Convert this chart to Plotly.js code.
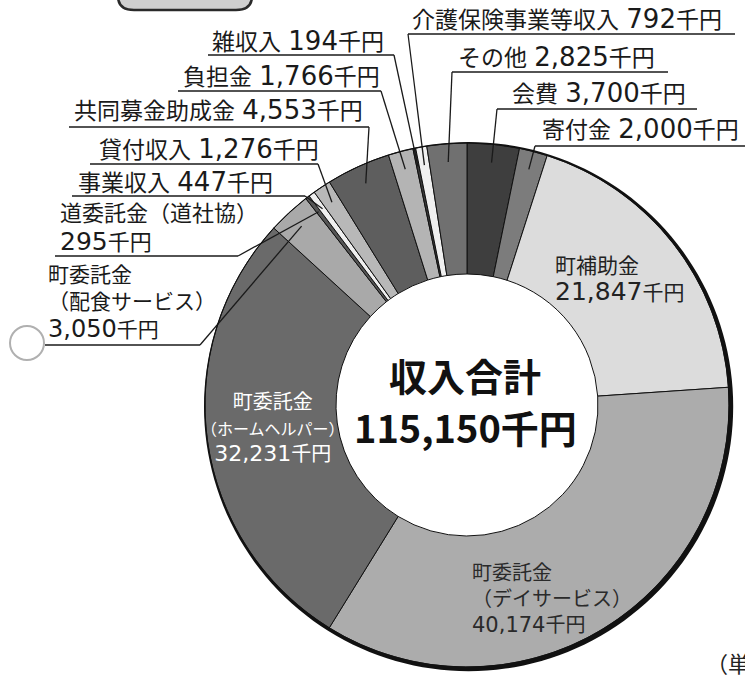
<!DOCTYPE html>
<html><head><meta charset="utf-8">
<script src="https://cdn.plot.ly/plotly-3.0.1.min.js"></script>
<style>html,body{margin:0;padding:0;background:#fff}#chart{width:745px;height:678px}</style>
</head><body><div id="chart"></div>
<script>
// ---- data ----
const categories = ['会費','寄付金','町補助金','町委託金（デイサービス）','町委託金（ホームヘルパー）','町委託金（配食サービス）','道委託金（道社協）','事業収入','貸付収入','共同募金助成金','負担金','雑収入','介護保険事業等収入','その他'];
const values = [3700, 2000, 21847, 40174, 32231, 3050, 295, 447, 1276, 4553, 1766, 194, 792, 2825];
const unit = '千円';
const totalTitle = '収入合計';
const totalValue = 115150;
const unitNote = '（単位：千円）';

// ---- style ----
const sliceColors = ['#3e3e3e','#7c7c7c','#dcdcdc','#acacac','#6a6a6a','#a9a9a9','#555555','#efefef','#b8b8b8','#5e5e5e','#b4b4b4','#3a3a3a','#f0f0f0','#707070'];
const W = 745, H = 678;
const CX = 467, CY = 405, R = 262;
const FONT = '"DejaVu Sans", "Noto Sans CJK JP", sans-serif';
const FONT_CJK = '"Noto Sans CJK JP", "Noto Sans", sans-serif';
const fx = x => x / W, fy = y => 1 - y / H;
const fmt = v => v.toLocaleString('en-US') + unit;
const wide = (s, sz) => s.replace(/[0-9][0-9,]*/g, m => '<span style="font-size:' + sz + 'px">' + m + '</span>');

// outside label layout: index into data, text lines, block centre, underline, leader side
const outside = [
  {i:12, lines:['介護保険事業等収入 {v}'], x:410, y:19, fs:23, ds:26, ul:[408,735,34], side:'left'},
  {i:11, lines:['雑収入 {v}'], x:210, y:41, fs:23, ds:26, ul:[208,394,55], side:'right'},
  {i:13, lines:['その他 {v}'], x:456, y:57, fs:23, ds:26, ul:[452,668,72], side:'left'},
  {i:10, lines:['負担金 {v}'], x:181, y:76, fs:23, ds:26, ul:[178,381,91], side:'right'},
  {i:0,  lines:['会費 {v}'], x:510, y:93, fs:23, ds:26, ul:[497,697,109], side:'left'},
  {i:9,  lines:['共同募金助成金 {v}'], x:72, y:110, fs:23, ds:26, ul:[69,369,127], side:'right'},
  {i:1,  lines:['寄付金 {v}'], x:540, y:129, fs:23, ds:26, ul:[535,745,146], side:'left'},
  {i:8,  lines:['貸付収入 {v}'], x:97, y:149, fs:23, ds:26, ul:[90,318,164], side:'right'},
  {i:7,  lines:['事業収入 {v}'], x:76, y:182, fs:23, ds:26, ul:[72,305,196], side:'right'},
  {i:6,  lines:['道委託金（道社協）','{v}'], x:58, y:228, fs:22, ds:25, ul:[55,238,256], side:'right'},
  {i:5,  lines:['町委託金','（配食サービス）','{v}'], x:46, y:303, fs:21, ds:24, ul:[45,200,345], side:'right'}
];
const inside = [
  {i:2, lines:['町補助金','{v}'], x:553, y:280, fs:21, ds:25, anchor:'left', align:'left', color:'#222'},
  {i:4, lines:['町委託金','<span style="font-size:16px">（ホームヘルパー）</span>','{v}'], x:273, y:428, fs:20, ds:22, anchor:'center', align:'center', color:'#ffffff'},
  {i:3, lines:['町委託金','（デイサービス）','{v}'], x:470, y:599, fs:20, ds:21, anchor:'left', align:'left', color:'#2a2a2a'}
];

const total = values.reduce((a,b)=>a+b,0);
const cum = []; values.reduce((a,v,k)=>{cum[k]=a; return a+v;},0);
function slicePoint(k, rr){
  const th = (cum[k] + values[k]/2) / total * 2 * Math.PI;
  return [CX + rr*Math.sin(th), CY - rr*Math.cos(th)];
}

const shapes = [], annotations = [];
outside.forEach(o => {
  const txt = o.lines.map(ln => wide(ln.replace('{v}', fmt(values[o.i])), o.ds)).join('<br>');
  annotations.push({text: txt, x: fx(o.x), y: fy(o.y), xref:'paper', yref:'paper', xanchor:'left', yanchor:'middle',
    align:'left', showarrow:false, font:{family:FONT, size:o.fs, color:'#1a1a1a'}});
  const [x0,x1,uy] = o.ul;
  shapes.push({type:'line', xref:'paper', yref:'paper', x0:fx(x0), x1:fx(x1), y0:fy(uy), y1:fy(uy), line:{color:'#1a1a1a', width:1.5}});
  const sx = o.side === 'left' ? x0 : x1;
  const [ex, ey] = slicePoint(o.i, R*0.93);
  shapes.push({type:'line', xref:'paper', yref:'paper', x0:fx(sx), y0:fy(uy), x1:fx(ex), y1:fy(ey), line:{color:'#1a1a1a', width:1.3}});
});
inside.forEach(o => {
  const txt = o.lines.map(ln => ln.indexOf('{v}') >= 0 ? wide(ln.replace('{v}', fmt(values[o.i])), o.ds) : ln).join('<br>');
  annotations.push({text: txt, x: fx(o.x), y: fy(o.y), xref:'paper', yref:'paper', xanchor:o.anchor, yanchor:'middle',
    align:o.align, showarrow:false, font:{family:FONT, size:o.fs, color:o.color}});
});
// centre text
annotations.push({text:'<b>'+totalTitle+'</b>', x:fx(CX-2), y:fy(374), xref:'paper', yref:'paper', showarrow:false,
  xanchor:'center', yanchor:'middle', font:{family:FONT_CJK, size:38, color:'#111'}});
annotations.push({text:'<b>'+fmt(totalValue)+'</b>', x:fx(CX-2), y:fy(426), xref:'paper', yref:'paper', showarrow:false,
  xanchor:'center', yanchor:'middle', font:{family:FONT_CJK, size:38, color:'#111'}});
annotations.push({text:unitNote, x:fx(704), y:fy(662), xref:'paper', yref:'paper', showarrow:false,
  xanchor:'left', yanchor:'middle', font:{family:FONT_CJK, size:22, color:'#222'}});

// heavy outer rim (crescent, thicker toward lower right)
function circ(cx, cy, r, n){
  let d=''; for(let k=0;k<=n;k++){const a=2*Math.PI*k/n; d+=(k?'L':'M')+fx(cx+r*Math.cos(a)).toFixed(5)+','+fy(cy+r*Math.sin(a)).toFixed(5);} return d+'Z';
}
shapes.push({type:'path', xref:'paper', yref:'paper', path: circ(CX+1.6, CY+1.6, R+2.6, 180) + circ(CX, CY, R-0.5, 180),
  fillrule:'evenodd', fillcolor:'#111', line:{width:0}, layer:'above'});
// decorative rounded tab at top-left
shapes.push({type:'path', xref:'paper', yref:'paper', layer:'above',
  path:'M'+fx(118)+','+fy(-20)+'L'+fx(118)+','+fy(-4)+'Q'+fx(118)+','+fy(10)+' '+fx(134)+','+fy(10)+'L'+fx(236)+','+fy(10)+'Q'+fx(252)+','+fy(10)+' '+fx(252)+','+fy(-4)+'L'+fx(252)+','+fy(-20)+'Z',
  fillcolor:'#cfcfcf', line:{color:'#2a2a2a', width:2.5}});
// small circle mark at left
shapes.push({type:'circle', xref:'paper', yref:'paper', x0:fx(10), x1:fx(44), y0:fy(326), y1:fy(360),
  line:{color:'#b0b0b0', width:2}, layer:'below'});

const trace = {
  type:'pie', labels:categories, values:values, hole:0.5, sort:false, direction:'clockwise', rotation:0,
  marker:{colors:sliceColors, line:{color:'#111', width:1}},
  textinfo:'none', hoverinfo:'label+value', showlegend:false,
  domain:{x:[(CX-R)/W, (CX+R)/W], y:[(H-CY-R)/H, (H-CY+R)/H]}
};
Plotly.newPlot('chart', [trace], {
  width:W, height:H, margin:{l:0,r:0,t:0,b:0}, paper_bgcolor:'#ffffff', plot_bgcolor:'#ffffff',
  showlegend:false, shapes:shapes, annotations:annotations, font:{family:FONT}
}, {staticPlot:true});
</script></body></html>
